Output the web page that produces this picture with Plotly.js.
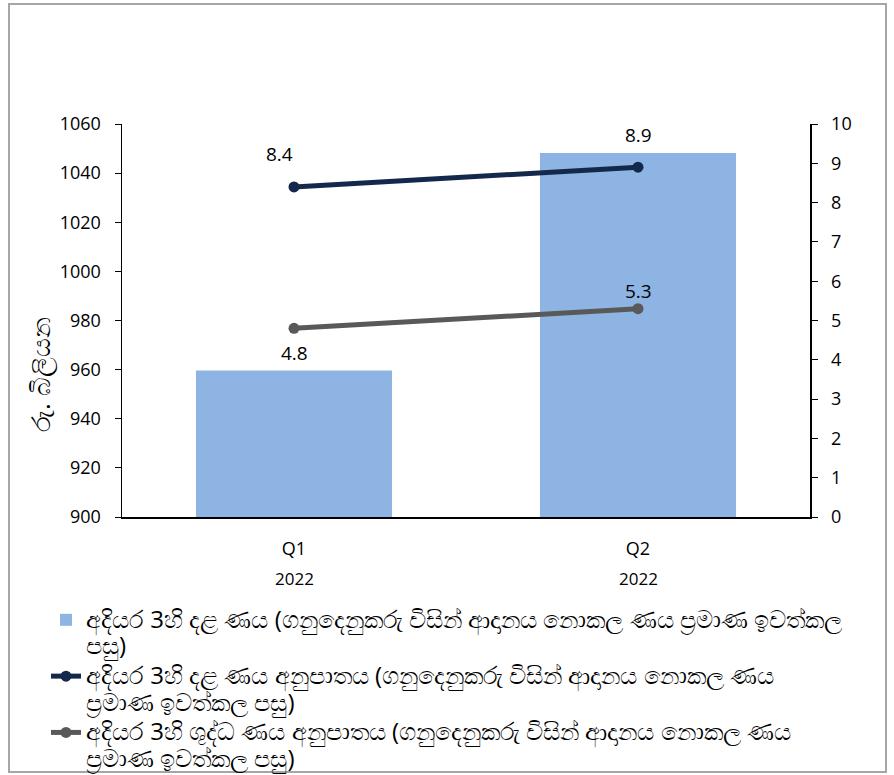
<!DOCTYPE html>
<html>
<head>
<meta charset="utf-8">
<script src="https://cdn.plot.ly/plotly-3.0.1.min.js"></script>
<style>html,body{margin:0;padding:0;background:#fff}#chart{width:894px;height:775px}</style>
</head>
<body>
<div id="chart"></div>
<script>
const categories = ["Q1", "Q2"];
const years = ["2022", "2022"];
const grossLoans = [959.6, 1048.2];
const grossRatio = [8.4, 8.9];
const netRatio = [4.8, 5.3];
const seriesNames = [
  "අදියර 3හි දළ ණය (ගනුදෙනුකරු විසින් ආදානය නොකල ණය ප්‍රමාණ ඉවත්කල<br>පසු)",
  "අදියර 3හි දළ ණය අනුපාතය (ගනුදෙනුකරු විසින් ආදානය නොකල ණය<br>ප්‍රමාණ ඉවත්කල පසු)",
  "අදියර 3හි ශුද්ධ ණය අනුපාතය (ගනුදෙනුකරු විසින් ආදානය නොකල ණය<br>ප්‍රමාණ ඉවත්කල පසු)"
];
const yTitle = "රු. බිලියන";

const W = 894, H = 775, L = 122, R = 84, T = 124, B = 258;
const pw = W - L - R, ph = H - T - B;
const px = v => (v - L) / pw;
const py = v => (H - B - v) / ph;

const fontFam = "Open Sans, Noto Sans, sans-serif";
const big = s => s.split("<br>").map(p => '<span style="font-size:24px">' + p + '</span>').join("<br>");

const traces = [
  {type: "bar", x: categories, y: grossLoans, name: big(seriesNames[0]),
   marker: {color: "#8EB4E3"}, yaxis: "y", hoverinfo: "skip"},
  {type: "scatter", mode: "lines+markers", x: categories, y: grossRatio, name: big(seriesNames[1]),
   line: {color: "#14284B", width: 5}, marker: {color: "#14284B", size: 11}, yaxis: "y2"},
  {type: "scatter", mode: "lines+markers", x: categories, y: netRatio, name: big(seriesNames[2]),
   line: {color: "#595959", width: 5}, marker: {color: "#595959", size: 11}, yaxis: "y2"}
];

const annotations = [];
categories.forEach((c, i) => annotations.push({
  x: c, xref: "x", y: py(578), yref: "paper", yanchor: "middle", text: years[i], showarrow: false,
  font: {family: fontFam, size: 17, color: "#000"}
}));
const glOff = [[-15, 33], [0, 32]];
grossRatio.forEach((v, i) => annotations.push({
  x: categories[i], xref: "x", y: v, yref: "y2", text: v.toFixed(1), showarrow: false,
  xshift: glOff[i][0], yshift: glOff[i][1], font: {family: fontFam, size: 19, color: "#000"}
}));
const nrOff = [[0, -25], [0, 18]];
netRatio.forEach((v, i) => annotations.push({
  x: categories[i], xref: "x", y: v, yref: "y2", text: v.toFixed(1), showarrow: false,
  xshift: nrOff[i][0], yshift: nrOff[i][1], font: {family: fontFam, size: 19, color: "#000"}
}));
annotations.push({
  x: px(40), xref: "paper", y: py(375), yref: "paper", text: yTitle, textangle: -90,
  xanchor: "center", yanchor: "middle",
  showarrow: false, font: {family: fontFam, size: 26, color: "#000"}
});

const layout = {
  width: W, height: H,
  margin: {l: L, r: R, t: T, b: B, pad: 0, autoexpand: false},
  paper_bgcolor: "#fff", plot_bgcolor: "#fff",
  font: {family: fontFam, size: 17, color: "#000"},
  showlegend: true,
  bargap: 0.43,
  xaxis: {
    type: "category", showline: true, linecolor: "#000", linewidth: 2,
    ticks: "", showgrid: false, zeroline: false, automargin: false,
    tickfont: {family: fontFam, size: 18, color: "#000"}, ticklabelstandoff: 14
  },
  yaxis: {
    range: [900, 1060], dtick: 20, tick0: 900, showline: true, linecolor: "#000", linewidth: 1.5,
    ticks: "outside", ticklen: 6, tickcolor: "#000", showgrid: false, zeroline: false, automargin: false,
    tickfont: {family: fontFam, size: 18, color: "#000"}, ticklabelstandoff: 10
  },
  yaxis2: {
    range: [0, 10], dtick: 1, tick0: 0, overlaying: "y", side: "right",
    showline: true, linecolor: "#000", linewidth: 1.5, automargin: false,
    ticks: "outside", ticklen: 6, tickcolor: "#000", showgrid: false, zeroline: false,
    tickfont: {family: fontFam, size: 18, color: "#000"}, ticklabelstandoff: 10
  },
  legend: {
    orientation: "v", x: px(46), xanchor: "left", y: py(600), yanchor: "top",
    font: {family: fontFam, size: 20.5, color: "#000"}, tracegroupgap: 0, valign: "top",
    bgcolor: "rgba(0,0,0,0)"
  },
  annotations: annotations,
  shapes: [{
    type: "rect", xref: "paper", yref: "paper",
    x0: px(9), x1: px(886), y0: py(772), y1: py(4),
    line: {color: "#A6A6A6", width: 2}, fillcolor: "rgba(0,0,0,0)", layer: "below"
  }]
};

Plotly.newPlot("chart", traces, layout, {displayModeBar: false, staticPlot: true});
</script>
</body>
</html>
